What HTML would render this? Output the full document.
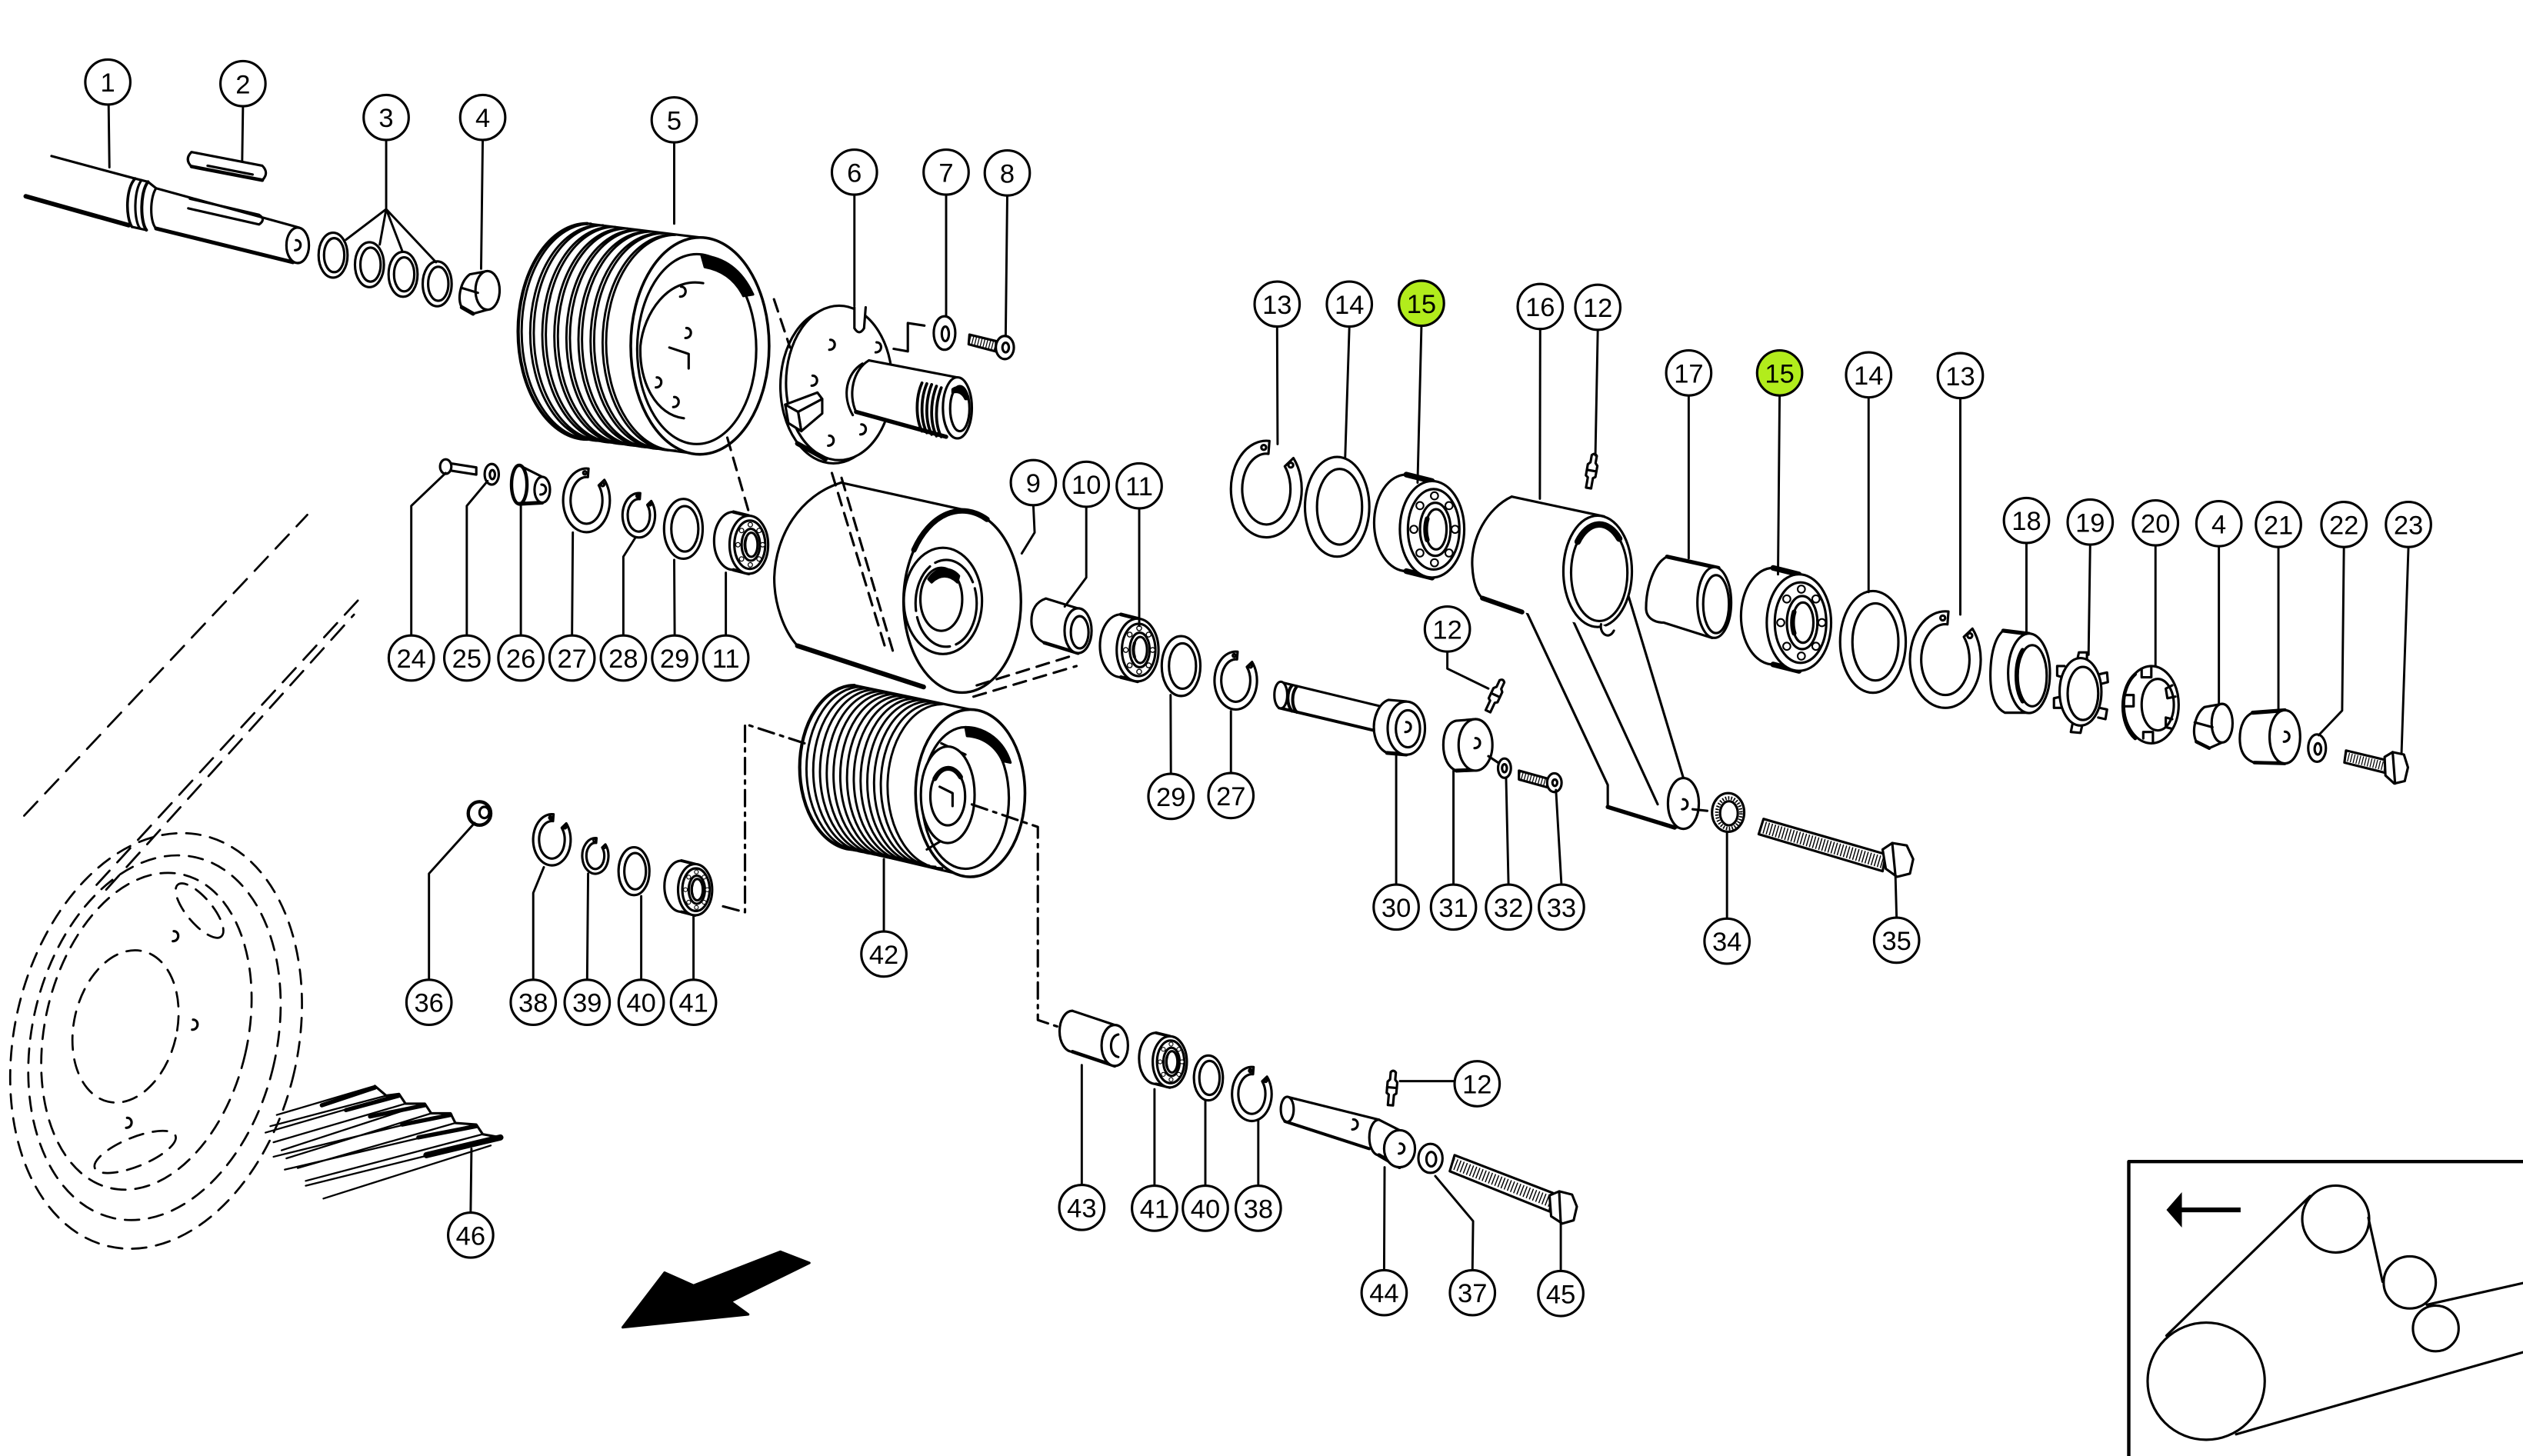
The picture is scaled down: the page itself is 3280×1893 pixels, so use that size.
<!DOCTYPE html>
<html><head><meta charset="utf-8"><title>Exploded parts diagram</title>
<style>html,body{margin:0;padding:0;background:#fff;overflow:hidden}svg{display:block}</style>
</head><body>
<svg xmlns="http://www.w3.org/2000/svg" width="3280" height="1893" viewBox="0 0 1568 905" preserveAspectRatio="none">
<defs>
<g id="clip"><path d="M16.85,-19.28 A22,30 0 1 1 1.92,-29.89 L1.31,-21.92 A15,22 0 1 0 11.49,-14.14 Z" fill="#fff"/><circle cx="-1.6" cy="-25.9" r="1.5"/><circle cx="15.2" cy="-14.9" r="1.5"/></g>
<g id="ring"><ellipse rx="20" ry="31" fill="#fff"/><ellipse cx="1.5" rx="14" ry="23.5"/></g>
<g id="bear"><path d="M-16,-34 A20,30 0 0 0 -16,26 L0,30 L0,-30 Z" fill="#fff"/><path d="M-16,-34 L0,-30 M-16,26 L0,30" stroke-width="3.5"/><ellipse rx="20" ry="30" fill="#fff"/><ellipse cx="1" rx="16" ry="25"/><ellipse cx="2" rx="9.5" ry="16.5"/><ellipse cx="2.5" rx="6.5" ry="12.5"/><path d="M-3,-6.6 A6.5,12.5 0 0 0 -3,6.6" stroke-width="3"/><g fill="#fff" stroke-width="1"><circle cx="14.3" cy="0" r="2.3"/><circle cx="10.55" cy="14.71" r="2.3"/><circle cx="1.5" cy="20.8" r="2.3"/><circle cx="-7.55" cy="14.71" r="2.3"/><circle cx="-11.3" cy="0" r="2.3"/><circle cx="-7.55" cy="-14.71" r="2.3"/><circle cx="1.5" cy="-20.8" r="2.3"/><circle cx="10.55" cy="-14.71" r="2.3"/></g></g>
<g id="nip"><path d="M-1.6,-10.5 Q0,-12.5 1.6,-10.5 L1.6,-6 L3,-4.5 L3,2.5 L1.6,3.5 L1.6,10 L-1.6,10 L-1.6,3.5 L-3,2.5 L-3,-4.5 L-1.6,-6 Z" fill="#fff"/><path d="M-3,-1 L3,-1"/></g>
<path id="cm" d="M-1,-3.2 C2.8,-3.2 2.8,3 -1.6,3"/>
</defs>
<rect x="0" y="0" width="1568" height="905" fill="#fff"/>

<g fill="none" stroke="#000" stroke-width="1.5" stroke-linecap="round" stroke-linejoin="round">

<!-- ===== Shaft 1 ===== -->
<path d="M32,97 L84,111"/>
<path d="M16,122 L80,140" stroke-width="2.8"/>
<path d="M84,111 C78,117 78,135 82,141" stroke-width="1.7"/>
<path d="M88,112 C83,118 83,137 87,142"/>
<path d="M92,113 C87,119 87,138 91,143" stroke-width="1.9"/>
<path d="M84,111 L92,113 M82,141 L91,143"/>
<path d="M92,113 L97,117 C93,123 93,138 97,142"/>
<path d="M97,117 L186,141.5"/>
<path d="M97,142 L182,163" stroke-width="2.4"/>
<ellipse cx="185" cy="152.5" rx="7" ry="11" fill="#fff"/>
<use href="#cm" x="185" y="152.5"/>
<path d="M118,123.5 L161,133.5 Q165.5,136.5 161,139.5 L117,129.5"/>

<!-- ===== Key 2 ===== -->
<path d="M119,94.5 L163,103 Q167.5,107.5 163,112 L119,103.5 Q114.5,99 119,94.5 Z" fill="#fff"/>
<path d="M119,103.5 L163,112" stroke-width="2.2"/>
<path d="M129,103 L157,108.5"/>

<!-- ===== Rings 3 ===== -->
<use href="#ring" transform="translate(207,158.6) scale(0.45)" stroke-width="3.33"/>
<use href="#ring" transform="translate(229.6,164.5) scale(0.45)" stroke-width="3.33"/>
<use href="#ring" transform="translate(250.5,170.5) scale(0.45)" stroke-width="3.33"/>
<use href="#ring" transform="translate(271.7,176.4) scale(0.45)" stroke-width="3.33"/>

<!-- ===== Part 4 (left) ===== -->
<path d="M303,168.5 L292,170.5 C286,175 284,186 287,191 L294,195 L303,192.5" fill="#fff"/>
<ellipse cx="303" cy="180.5" rx="7.5" ry="12" fill="#fff"/>
<path d="M287,179 L297,182"/>
<path d="M287,191 L294,195" stroke-width="2.5"/>

<!-- ===== Pulley 5 ===== -->
<path d="M365,139 A43,67 0 0 0 365,273 M367.2,139 A43,67 0 0 0 367.2,273 M372.5,140 A43,67 0 0 0 372.5,274 M374.7,140 A43,67 0 0 0 374.7,274 M380,141 A43,67 0 0 0 380,275 M382.2,141 A43,67 0 0 0 382.2,275 M387.5,142 A43,67 0 0 0 387.5,276 M389.7,142 A43,67 0 0 0 389.7,276 M395,143 A43,67 0 0 0 395,277 M397.2,143 A43,67 0 0 0 397.2,277 M402.5,144 A43,67 0 0 0 402.5,278 M404.7,144 A43,67 0 0 0 404.7,278 M410,145 A43,67 0 0 0 410,279 M412.2,145 A43,67 0 0 0 412.2,279 M417.5,146 A43,67 0 0 0 417.5,280 M419.7,146 A43,67 0 0 0 419.7,280" stroke-width="1.4"/>
<path d="M365,139 L435,147.6 M365,273 L435,282.4"/>
<path d="M365,139 A43,67 0 0 0 365,273" stroke-width="2"/>
<ellipse cx="435" cy="215" rx="43" ry="67.4" fill="#fff" stroke-width="1.7"/>
<ellipse cx="433" cy="217" rx="37" ry="59"/>
<path d="M437,176 C415,172 400,195 398,215 C397,238 408,258 425,260"/>
<path d="M436,158.8 C452,160 462,170 468,183 L462,184 C457,174 449,168 438,166 Z" fill="#000"/>
<path d="M416,216 L428,220 L428,229"/>
<use href="#cm" x="424.3" y="181.4"/>
<use href="#cm" x="427.6" y="207.1"/>
<use href="#cm" x="409.2" y="237.8"/>
<use href="#cm" x="420" y="250"/>

<!-- ===== Hub 6 ===== -->
<ellipse cx="518" cy="240" rx="33" ry="48" fill="#fff"/>
<ellipse cx="521.5" cy="238" rx="33" ry="48" fill="#fff"/>
<path d="M531,191 L531,204 Q534,209 537,204 L538,191" fill="#fff"/>
<use href="#cm" x="517" y="214.4"/>
<use href="#cm" x="545.8" y="216"/>
<use href="#cm" x="506" y="236.7"/>
<use href="#cm" x="536.3" y="267"/>
<use href="#cm" x="516.3" y="274"/>
<path d="M536,226 C526,232 523,246 530,258"/>
<path d="M540,224 L594.5,234.5 L595,272.5 L532,256 Z" fill="#fff" stroke="none"/>
<path d="M540,224 L594.5,234.5"/>
<path d="M532,256 L588,271.5" stroke-width="2.6"/>
<path d="M540,224 C530,230 527,245 532,256"/>
<path d="M573,238 C569,247 569,260 573,268 M576,238.5 C572,248 572,261 576,269 M579,239 C575,249 575,262 579,270 M582,240 C578,250 578,263 582,271 M585,241 C581,251 581,264 585,271.5" stroke-width="1.8"/>
<ellipse cx="595" cy="253.5" rx="9" ry="19" fill="#fff"/>
<ellipse cx="596.5" cy="254" rx="6" ry="14"/>
<path d="M592,242 C596,239 601,242 602,248 L600,248 C598,244 595,243 592,244 Z" fill="#000"/>
<path d="M488,251.5 L508,244 L511,248 L496,256 Z" fill="#fff"/>
<path d="M496,256 L511,248 L511,257 L498,268 Z" fill="#fff"/>
<path d="M488,251.5 L496,256 L498,268 L490,263 Z" fill="#fff"/>
<path d="M495.6,275.7 L513,285.3" stroke-width="3"/>

<!-- ===== 7, 8 ===== -->
<path d="M574.5,202.4 L564.2,200.8 L564.2,218.4 L555.4,216.8"/>
<ellipse cx="587" cy="207" rx="6.7" ry="10.4" fill="#fff"/>
<ellipse cx="587.5" cy="207.5" rx="2.2" ry="4.5"/>
<path d="M602.5,208 L619,212 L619,218.5 L602,214 Z" fill="#fff"/>
<path d="M602.5,211 L619,215.2" stroke-width="5" stroke-dasharray="0.6 1.2" stroke-linecap="butt"/>
<ellipse cx="624.5" cy="216" rx="5.6" ry="7.2" fill="#fff"/>
<ellipse cx="625" cy="216" rx="2" ry="3"/>

<!-- ===== dashed connectors upper ===== -->
<g stroke-dasharray="8 5">
<path d="M481,186 L491,216"/>
<path d="M452,272 L465,317"/>
</g>

<!-- ===== Roller 9 ===== -->
<path d="M522.7,300 L604,318 L574,427 L495.6,401.4 C487,392 481,375 481.2,358.8 C482,333 497,308 522.7,300 Z" fill="#fff" stroke="none"/>
<path d="M522.7,300 L604,318"/>
<path d="M522.7,300 C497,308 482,333 481.2,358.8 C481,375 487,392 495.6,401.4"/>
<path d="M495.6,401.4 L574,427" stroke-width="3"/>
<ellipse cx="598" cy="374" rx="36.5" ry="56.5" fill="#fff" stroke-width="1.6"/>
<path d="M568,341.8 A36.5,56.5 0 0 1 613.4,322.8" stroke-width="3.4"/>
<ellipse cx="586" cy="373.5" rx="24.3" ry="33" fill="#fff"/>
<ellipse cx="588" cy="375" rx="19" ry="27" stroke-dasharray="30 4"/>
<ellipse cx="585" cy="372.5" rx="13" ry="19.6"/>
<path d="M577,360 C582,352 591,352 596,358 L595,362 C590,357 584,357 579,362 Z" fill="#000"/>
<g stroke-dasharray="8 5">
<path d="M517,294 L550,402"/>
<path d="M523,297 L555,405"/>
</g>

<!-- ===== 10, 11, 29, 27 (upper middle) ===== -->
<path d="M650,372 L670,378.2 L670,406 L649,399.5 C644,397 641,393 641,386 C641,379 644,374 650,372 Z" fill="#fff"/>
<path d="M649,399.5 L670,406" stroke-width="2.2"/>
<ellipse cx="670" cy="392" rx="8.4" ry="13.9" fill="#fff"/>
<ellipse cx="671" cy="393" rx="5.5" ry="10"/>
<use href="#bear" transform="translate(707,404) scale(0.65)" stroke-width="2.3"/>
<use href="#ring" transform="translate(734,414) scale(0.6)" stroke-width="2.5"/>
<use href="#clip" transform="translate(768,423) scale(0.6)" stroke-width="2.5"/>

<!-- ===== Pulley 42 ===== -->
<path d="M531,426 A34,51 0 0 0 531,528 M535.2,426.9 A34,51 0 0 0 535.2,528.9 M539.4,427.8 A34,51 0 0 0 539.4,529.8 M543.6,428.7 A34,51 0 0 0 543.6,530.7 M547.8,429.6 A34,51 0 0 0 547.8,531.6 M552,430.5 A34,51 0 0 0 552,532.5 M556.2,431.4 A34,51 0 0 0 556.2,533.4 M560.4,432.3 A34,51 0 0 0 560.4,534.3 M564.6,433.2 A34,51 0 0 0 564.6,535.2 M568.8,434.1 A34,51 0 0 0 568.8,536.1 M573,435 A34,51 0 0 0 573,537 M577.2,435.9 A34,51 0 0 0 577.2,537.9 M581.4,436.8 A34,51 0 0 0 581.4,538.8 M585.6,437.7 A34,51 0 0 0 585.6,539.7" stroke-width="1.4"/>
<path d="M531,426 A34,51 0 0 0 531,528" stroke-width="2"/>
<path d="M531,426 L603,441 M531,528 L603,545"/>
<ellipse cx="603" cy="493" rx="34" ry="52" fill="#fff" stroke-width="1.7"/>
<ellipse cx="600" cy="496" rx="27" ry="44"/>
<path d="M600,452 C613,452 624,461 628,474 L623,473 C619,464 611,458 601,457.5 Z" fill="#000"/>
<path d="M585,462 L600,469 M576,528 L596,516"/>
<ellipse cx="589" cy="494" rx="16.7" ry="30" fill="#fff"/>
<ellipse cx="589" cy="495" rx="10.8" ry="18"/>
<path d="M581,484 A10.8,18 0 0 1 597,483" stroke-width="3"/>
<path d="M584,489 L592,493 L592,501"/>
<g stroke-dasharray="8 5">
<path d="M607,426 L665,408"/>
<path d="M605,433 L669,414"/>
</g>

<!-- ===== dash-dot connectors ===== -->
<g stroke-dasharray="10 4 2 4">
<path d="M604,500 L645,514 L645,634 L657,638"/>
<path d="M500,462 L463,450 L463,567 L448,563"/>
</g>

<!-- ===== parts 24-29, 11 (left row) ===== -->
<path d="M280,288 L296,290.5 L296,295 L280,292.5 Z" fill="#fff"/>
<ellipse cx="277" cy="290" rx="3.5" ry="4.5" fill="#fff"/>
<ellipse cx="305.6" cy="294.8" rx="4.4" ry="6.4" fill="#fff"/>
<ellipse cx="306" cy="295" rx="1.6" ry="2.8"/>
<ellipse cx="322.7" cy="301.2" rx="4.8" ry="12" fill="#fff" stroke-width="2.1"/>
<path d="M322.7,289.2 L337,296.4 M322.7,313.2 L337,312.4"/>
<path d="M322.7,313.2 L337,312.4" stroke-width="2.4"/>
<ellipse cx="337" cy="304.4" rx="4.8" ry="8" fill="#fff"/>
<use href="#cm" x="337.5" y="304.4"/>
<use href="#clip" transform="translate(364.5,311) scale(0.66)" stroke-width="2.27"/>
<use href="#clip" transform="translate(397,320.3) scale(0.46)" stroke-width="3.26"/>
<use href="#ring" transform="translate(424.7,328.7) scale(0.6)" stroke-width="2.5"/>
<use href="#bear" transform="translate(465.4,338.6) scale(0.6)" stroke-width="2.5"/>

<!-- ===== lower-left 36, 38-41 ===== -->
<ellipse cx="298" cy="505.6" rx="7" ry="7.3" fill="#fff" stroke-width="2.1"/>
<ellipse cx="301" cy="505" rx="3" ry="3.5"/>
<use href="#clip" transform="translate(343,522) scale(0.53)" stroke-width="2.83"/>
<use href="#clip" transform="translate(370,532) scale(0.37)" stroke-width="4.05"/>
<use href="#ring" transform="translate(394,541.5) scale(0.48)" stroke-width="3.1"/>
<use href="#bear" transform="translate(432,553) scale(0.53)" stroke-width="2.83"/>

<!-- ===== Right group ===== -->
<use href="#clip" transform="translate(787,304)"/>
<use href="#ring" transform="translate(831,315)"/>
<use href="#bear" transform="translate(890,329)"/>

<!-- Arm 16 -->
<path d="M939.5,360.7 L969.3,370.1 L1009.9,363.3 L1046.2,483.6 L1046,514 L1040.8,514.4 L999.2,501.6 L999.2,487.9 Z" fill="#fff"/>
<path d="M970.4,370.1 L1030.2,499.9"/>
<path d="M939.5,360.7 L969.3,370.1" stroke-width="2.5"/>
<path d="M999.2,501.6 L1040.8,514.4" stroke-width="2.6"/>
<ellipse cx="1046.2" cy="499.4" rx="9.6" ry="15.8" fill="#fff"/>
<use href="#cm" x="1047" y="500"/>
<path d="M1052,503 L1061,504"/>
<path d="M939.5,308.7 L993,320.6 L993,389.7 L946,380.4 L921.3,371.8 C914,360 913,330 939.5,308.7 Z" fill="#fff" stroke="none"/>
<path d="M939.5,308.7 L997,321"/>
<path d="M939.5,308.7 C924,316 914,335 915,352 C915.5,362 918,369 921.3,371.8"/>
<path d="M921.3,371.8 L945.9,380.4" stroke-width="3"/>
<ellipse cx="992.9" cy="355.1" rx="21.3" ry="34.6" fill="#fff"/>
<ellipse cx="993.9" cy="356" rx="17.5" ry="30"/>
<path d="M980.5,336.7 A17.5,30 0 0 1 1006.3,334.8" stroke-width="4"/>
<path d="M995,388 C994,394 1000,398 1003,392" fill="#fff"/>
<use href="#nip" transform="translate(989,293.5) rotate(10)"/>

<!-- 17 -->
<path d="M1036,346 L1065,352.5 L1065,396.5 L1034,387 C1028,387 1023,384 1023,378 C1023,365 1028,350 1036,346 Z" fill="#fff" stroke="none"/>
<path d="M1036,346 L1068,353" stroke-width="2.5"/>
<path d="M1036,346 C1028,350 1023,365 1023,378 C1023,384 1028,387 1034,387 L1064,396.5"/>
<ellipse cx="1065.4" cy="374.5" rx="10.5" ry="22" fill="#fff"/>
<ellipse cx="1066.5" cy="375.5" rx="8" ry="18"/>

<use href="#bear" transform="translate(1118,387)"/>
<use href="#ring" transform="translate(1164,399) scale(1.02)" stroke-width="1.47"/>
<use href="#clip" transform="translate(1209,410)"/>

<!-- 18 -->
<path d="M1245,392 L1261,394 L1261,443 L1246,443 C1240,440 1237,432 1237,420 C1237,406 1240,396 1245,392 Z" fill="#fff"/>
<path d="M1245,392 L1261,394" stroke-width="2.5"/>
<ellipse cx="1261" cy="418.5" rx="13" ry="24.7" fill="#fff"/>
<ellipse cx="1263" cy="420" rx="9" ry="19"/>
<path d="M1257,404 C1252,412 1252,428 1257,436" stroke-width="2.5"/>

<!-- 19 tab washer -->
<path d="M1291,410 L1292,405.5 L1297,405.5 L1297,410 M1305,419 L1309.5,418 L1310,424 L1306,425 M1305,440 L1309.5,441 L1308.5,447 L1304,446 M1288,450 L1287,455 L1293,455.5 L1294,451 M1281,433 L1276.5,434 L1276.5,440 L1281,440 M1283,414 L1278.5,414 L1278.5,420 L1282,421"/>
<ellipse cx="1293" cy="430" rx="13" ry="21" fill="#fff"/>
<ellipse cx="1294.5" cy="431" rx="9.5" ry="16.5"/>

<!-- 20 nut -->
<ellipse cx="1337" cy="438" rx="17" ry="24" fill="#fff"/>
<ellipse cx="1341" cy="438" rx="10" ry="16"/>
<path d="M1331,416 L1331,421 L1337,421 L1337,415 M1320,432 L1326,432 L1326,439 L1321,439 M1332,459 L1332,455 L1338,455 L1338,461 M1350,426 L1346,428 L1347,434 L1352,433 M1350,447 L1346,446 L1346,452 L1350,453"/>
<path d="M1327,419 C1317,428 1317,450 1327,459" stroke-width="2.2"/>

<!-- 4 right -->
<path d="M1381,437.5 L1370,439.5 C1364,444 1362,455 1365,461 L1373,465 L1381,461.5" fill="#fff"/>
<ellipse cx="1381" cy="449.5" rx="6.5" ry="12" fill="#fff"/>
<path d="M1364,449 L1375,452"/>
<path d="M1365,461 L1373,465" stroke-width="2.2"/>

<!-- 21 -->
<path d="M1400,443 L1420,441.5 L1420,474 L1401,474 C1395,472 1392,467 1392,459 C1392,451 1395,445 1400,443 Z" fill="#fff"/>
<path d="M1400,443 L1420,441.5" stroke-width="2.5"/>
<path d="M1401,474 L1420,474.5" stroke-width="2.2"/>
<ellipse cx="1420" cy="458" rx="9.5" ry="16.5" fill="#fff"/>
<use href="#cm" x="1421" y="458"/>

<!-- 22 -->
<ellipse cx="1440" cy="465" rx="5.5" ry="8.5" fill="#fff"/>
<ellipse cx="1440.5" cy="465.5" rx="2" ry="3.5"/>

<!-- 23 bolt -->
<path d="M1458,466.5 L1483,472.5 L1483,480.5 L1457,474 Z" fill="#fff"/>
<path d="M1457.5,470.2 L1483,476.5" stroke-width="5.5" stroke-dasharray="0.6 1.2" stroke-linecap="butt"/>
<path d="M1482,470.5 L1487,467.5 L1494,469 L1496.5,477 L1494.5,485.5 L1488,487 L1482.5,482 Z" fill="#fff"/>
<path d="M1487,467.5 L1488.5,487"/>

<!-- mid: 12, 30-35 -->
<use href="#nip" transform="translate(929,433) rotate(25)"/>
<path d="M796,424 L858,439 L858,455 L795,440 Z" fill="#fff" stroke="none"/>
<path d="M796,424 L858,439"/>
<path d="M795,440 L856,454.5" stroke-width="1.9"/>
<ellipse cx="796" cy="432" rx="4" ry="8.3" fill="#fff"/>
<path d="M803,426 C799.5,430 799.5,438 803,442 M806,426.7 C802.5,431 802.5,439 806,442.7" stroke-width="1.9"/>
<path d="M863,435 L874,436 L874,469 L862,468 C858,466 855,462 854,455 C853,446 857,437 863,435 Z" fill="#fff"/>
<path d="M862,468 L874,469" stroke-width="2.4"/>
<ellipse cx="874" cy="452.6" rx="11.6" ry="16.5" fill="#fff"/>
<ellipse cx="875" cy="453" rx="7.5" ry="11.5"/>
<use href="#cm" x="875" y="452"/>

<path d="M905,448 L917,447 L917,478 L905,479 C900,477 897,471 897,463 C897,455 900,449 905,448 Z" fill="#fff"/>
<path d="M905,479 L917,478.5" stroke-width="2.4"/>
<ellipse cx="917" cy="463" rx="10.5" ry="16" fill="#fff"/>
<use href="#cm" x="918" y="462"/>
<path d="M925,470 L931,474"/>

<ellipse cx="935" cy="477.5" rx="4" ry="6" fill="#fff"/>
<ellipse cx="935" cy="477.5" rx="1.5" ry="2.5"/>
<path d="M944,479 L962,484 L962,489.5 L944,484.5 Z" fill="#fff"/>
<path d="M944,481.7 L962,486.7" stroke-width="4.5" stroke-dasharray="0.6 1.2" stroke-linecap="butt"/>
<ellipse cx="966" cy="486.5" rx="4.5" ry="5.8" fill="#fff"/>
<ellipse cx="966.3" cy="486.5" rx="1.5" ry="2"/>

<ellipse cx="1074" cy="505" rx="10" ry="12" fill="#fff"/>
<ellipse cx="1074.5" cy="505.5" rx="7.5" ry="9.5" stroke-width="2.2" stroke-dasharray="0.8 1" stroke-linecap="butt"/>
<ellipse cx="1074.5" cy="505.5" rx="5.5" ry="7.5"/>

<path d="M1096,509 L1172,531 L1170,541.5 L1093,518.5 Z" fill="#fff"/>
<path d="M1094.5,513.8 L1171,536.3" stroke-width="7.5" stroke-dasharray="0.7 1.3" stroke-linecap="butt"/>
<path d="M1170,528 L1176,524 L1185,525.5 L1189,534 L1187,543 L1179,545 L1172,540 Z" fill="#fff"/>
<path d="M1176,524 L1178,544.5"/>

<!-- ===== bottom group 43, 41, 40, 38, 12, 44, 37, 45 ===== -->
<path d="M666.5,628.3 L692.8,637.1 L692.8,662.5 L666.5,653.7 A8,12.7 0 0 1 666.5,628.3 Z" fill="#fff" stroke="none"/>
<path d="M666.5,628.3 L692.8,637.1"/>
<path d="M666.5,628.3 A8,12.7 0 0 0 666.5,653.7"/>
<path d="M666.5,653.7 L692.8,662.5" stroke-width="2.2"/>
<ellipse cx="692.8" cy="649.8" rx="8.2" ry="12.7" fill="#fff"/>
<path d="M695,643 C689,644 689,656 695,657"/>
<use href="#bear" transform="translate(727,660) scale(0.53)" stroke-width="2.83"/>
<use href="#ring" transform="translate(751,670) scale(0.45)" stroke-width="3.33"/>
<use href="#clip" transform="translate(778,680) scale(0.56)" stroke-width="2.68"/>
<use href="#nip" transform="translate(865,677) rotate(5)"/>

<path d="M801,682 L857,696 L857,718 L850,714 L798.5,697 Z" fill="#fff" stroke="none"/>
<path d="M801,682 L857,696"/>
<path d="M798.5,697 L851,714" stroke-width="1.9"/>
<ellipse cx="800" cy="689.5" rx="4" ry="7.8" fill="#fff"/>
<use href="#cm" x="842" y="699"/>
<path d="M857,696 L869.8,702.5 L869.8,725.5 L857,718 A6,11 0 0 1 857,696 Z" fill="#fff" stroke="none"/>
<path d="M857,696 L869.8,702.5"/>
<path d="M857,696 A6,11 0 0 0 857,718"/>
<path d="M857,718 L869.8,725.5" stroke-width="2.4"/>
<ellipse cx="869.8" cy="714" rx="9.6" ry="11.5" fill="#fff"/>
<use href="#cm" x="871" y="714"/>

<ellipse cx="889" cy="720" rx="7.5" ry="9" fill="#fff"/>
<ellipse cx="889.5" cy="720.5" rx="3" ry="4.5"/>

<path d="M904,718 L965,741.5 L963,753 L901,728 Z" fill="#fff"/>
<path d="M902.5,723 L964,747" stroke-width="7" stroke-dasharray="0.7 1.4" stroke-linecap="butt"/>
<path d="M963,743 L969,740.5 L977,742.5 L980,750 L978,758.5 L971,760.5 L964,756 Z" fill="#fff"/>
<path d="M969,740.5 L970,760.5"/>

<!-- ===== Wheel (dashed) ===== -->
<g stroke-dasharray="9 6" stroke-width="1.3">
<ellipse cx="97" cy="647" rx="88" ry="131" transform="rotate(13 97 647)"/>
<ellipse cx="96" cy="645" rx="76" ry="115" transform="rotate(13 96 645)"/>
<ellipse cx="91" cy="641" rx="63" ry="100" transform="rotate(13 91 641)"/>
<ellipse cx="78" cy="638" rx="32" ry="48" transform="rotate(13 78 638)"/>
<ellipse cx="124" cy="566" rx="21" ry="8" transform="rotate(50 124 566)"/>
<ellipse cx="84" cy="716" rx="27" ry="9" transform="rotate(-22 84 716)"/>
</g>
<use href="#cm" x="109" y="582"/>
<use href="#cm" x="121" y="637"/>
<use href="#cm" x="80" y="698"/>
<g stroke-dasharray="12 7" stroke-width="1.3">
<path d="M15,507 L191,320"/>
<path d="M60,550 L224,371.5"/>
<path d="M66,553 L220,382"/>
</g>

<!-- ===== Belt 46 ===== -->
<path d="M172,693 L233,675 M168,700 L240,681 M165,704 L248,680 M170,710 L252,686 M175,715 L264,686 M178,720 L268,692 M170,719 L280,692 M185,726 L283,698 M177,727 L296,699 M190,734 L300,705 M190,737 L311,707 M201,745 L305,712" stroke-width="1.1"/>
<path d="M200,687 L233,676 M215,690 L248,681 M230,694 L264,687 M250,699 L280,693 M260,707 L296,700" stroke-width="2.6"/>
<path d="M265,718 L311,707" stroke-width="3.8"/>
<path d="M233,675 L240,681 L248,680 L252,686 L264,686 L268,692 L280,692 L283,698 L296,699 L300,705 L311,707"/>

<!-- ===== big arrow ===== -->
<path d="M387,825 L413,791 L431,799 L485,778 L503,785 L454,809 L465,817 Z" fill="#000"/>

<!-- ===== Inset ===== -->
<path d="M1568,722 L1323,722 L1323,905" stroke-width="2.1"/>
<path d="M1346.4,752 L1356,741 L1356,750.5 L1392.5,750.5 L1392.5,753.5 L1356,753.5 L1356,763 Z" fill="#000" stroke="none"/>
<circle cx="1451.6" cy="757.7" r="20.8" stroke-width="1.5"/>
<circle cx="1497.6" cy="797.1" r="16.2" stroke-width="1.5"/>
<circle cx="1513.8" cy="825.7" r="14.2" stroke-width="1.5"/>
<circle cx="1371.1" cy="858.5" r="36.4" stroke-width="1.5"/>
<path d="M1346.4,830.2 L1435.7,743.4 M1471.9,756.9 L1480.7,796.7 M1508.2,811 L1568,797.5 M1389.7,891.5 L1568,840.5" stroke-width="1.5"/>

<!-- ===== Leader lines ===== -->
<g stroke-width="1.4">
<path d="M67.5,65 L68,104 M151,66 L150.5,100 M240,87 L240,130 L215,149 M240,130 L236,152 M240,130 L250,156 M240,130 L271,163 M300,87 L299,167 M419,88.5 L419,139 M531,121 L531,190 M588,121 L588,196 M626,121.5 L625,209"/>
<path d="M793.7,203 L794,276 M838.6,203 L836,284 M883.4,202.5 L881,300 M957.2,204.5 L957,310 M993,205 L991.5,283 M1049.5,245.8 L1049.5,347 M1106,245.8 L1105,357 M1161.3,247 L1161.3,368 M1218.3,247.5 L1218.3,382"/>
<path d="M1259.4,337.5 L1259.4,394 M1299,338.5 L1298,407 M1339.6,339 L1339.6,414 M1379,339.5 L1379,437 M1416,340 L1416,442 M1456.7,340 L1455.6,441.7 L1441,457 M1496.8,340 L1492.5,468"/>
<path d="M642.2,314 L643,331 L635,344 M675.1,315 L675.1,359 L661.7,377 M708,316 L708,389"/>
<path d="M255.6,395 L255.6,314.4 L277,294 M290.1,395 L290.1,314.4 L303,299 M323.7,395 L323.7,313 M355.5,395 L356,331 M387.4,395 L387.4,346 L395,334 M419.3,395 L419,348 M451.1,395 L451.1,356"/>
<path d="M899.5,405 L899.5,415.6 L925,428 M727.7,481 L727.5,432 M765,480.5 L765,442"/>
<path d="M867.7,549.8 L867.7,469 M903.3,549.8 L903.3,479 M937.5,549.8 L936,483.5 M970.4,549.8 L967,491 M1073.3,571 L1073.3,517 M1178.7,570.4 L1178,545"/>
<path d="M266.6,609 L266.6,543 L295,511.5 M331.4,609 L331.4,555 L338,539 M364.9,609 L365.5,543 M398.5,609 L398.5,557 M431,609 L431,569 M549.3,579 L549.3,534 M292.5,753.7 L293,714"/>
<path d="M870,672 L904,672 M672.3,736.5 L672.3,662 M717.5,737 L717.5,677 M749.1,737 L749.1,684 M782,737 L782,696 M860.2,789.5 L860.5,725.5 M915.1,789.5 L915.5,759 L892,731 M970,790 L970,761"/>
</g>
</g>

<!-- ===== Labels ===== -->
<g stroke="#000" stroke-width="1.5" fill="#fff">
<circle cx="67" cy="51" r="14"/><circle cx="151" cy="52" r="14"/><circle cx="240" cy="73" r="14"/><circle cx="300" cy="73" r="14"/><circle cx="419" cy="74.5" r="14"/>
<circle cx="531" cy="107" r="14"/><circle cx="588" cy="107" r="14"/><circle cx="626" cy="107.5" r="14"/>
<circle cx="793.7" cy="189" r="14"/><circle cx="838.6" cy="189" r="14"/><circle cx="883.4" cy="188.5" r="14" fill="#b2ec1c"/><circle cx="957.2" cy="190.5" r="14"/><circle cx="993" cy="191" r="14"/>
<circle cx="1049.5" cy="231.8" r="14"/><circle cx="1106" cy="231.8" r="14" fill="#b2ec1c"/><circle cx="1161.3" cy="233" r="14"/><circle cx="1218.3" cy="233.5" r="14"/>
<circle cx="1259.4" cy="323.5" r="14"/><circle cx="1299" cy="324.5" r="14"/><circle cx="1339.6" cy="325" r="14"/><circle cx="1379" cy="325.5" r="14"/><circle cx="1416" cy="326" r="14"/><circle cx="1456.7" cy="326" r="14"/><circle cx="1496.8" cy="326" r="14"/>
<circle cx="642.2" cy="300" r="14"/><circle cx="675.1" cy="301" r="14"/><circle cx="708" cy="302" r="14"/>
<circle cx="255.6" cy="409" r="14"/><circle cx="290.1" cy="409" r="14"/><circle cx="323.7" cy="409" r="14"/><circle cx="355.5" cy="409" r="14"/><circle cx="387.4" cy="409" r="14"/><circle cx="419.3" cy="409" r="14"/><circle cx="451.1" cy="409" r="14"/>
<circle cx="899.5" cy="391" r="14"/><circle cx="727.7" cy="495" r="14"/><circle cx="765" cy="494.5" r="14"/>
<circle cx="867.7" cy="563.8" r="14"/><circle cx="903.3" cy="563.8" r="14"/><circle cx="937.5" cy="563.8" r="14"/><circle cx="970.4" cy="563.8" r="14"/><circle cx="1073.3" cy="585" r="14"/><circle cx="1178.7" cy="584.4" r="14"/>
<circle cx="266.6" cy="623" r="14"/><circle cx="331.4" cy="623" r="14"/><circle cx="364.9" cy="623" r="14"/><circle cx="398.5" cy="623" r="14"/><circle cx="431" cy="623" r="14"/><circle cx="549.3" cy="593" r="14"/><circle cx="292.5" cy="767.7" r="14"/>
<circle cx="918" cy="673.6" r="14"/><circle cx="672.3" cy="750.5" r="14"/><circle cx="717.5" cy="751" r="14"/><circle cx="749.1" cy="751" r="14"/><circle cx="782" cy="751" r="14"/><circle cx="860.2" cy="803.5" r="14"/><circle cx="915.1" cy="803.5" r="14"/><circle cx="970" cy="804" r="14"/>
</g>
<g font-family="'Liberation Sans', Arial, sans-serif" font-size="16.5" text-anchor="middle" fill="#000">
<text x="67" y="57">1</text><text x="151" y="58">2</text><text x="240" y="79">3</text><text x="300" y="79">4</text><text x="419" y="80.5">5</text>
<text x="531" y="113">6</text><text x="588" y="113">7</text><text x="626" y="113.5">8</text>
<text x="793.7" y="195">13</text><text x="838.6" y="195">14</text><text x="883.4" y="194.5">15</text><text x="957.2" y="196.5">16</text><text x="993" y="197">12</text>
<text x="1049.5" y="237.8">17</text><text x="1106" y="237.8">15</text><text x="1161.3" y="239">14</text><text x="1218.3" y="239.5">13</text>
<text x="1259.4" y="329.5">18</text><text x="1299" y="330.5">19</text><text x="1339.6" y="331">20</text><text x="1379" y="331.5">4</text><text x="1416" y="332">21</text><text x="1456.7" y="332">22</text><text x="1496.8" y="332">23</text>
<text x="642.2" y="306">9</text><text x="675.1" y="307">10</text><text x="708" y="308">11</text>
<text x="255.6" y="415">24</text><text x="290.1" y="415">25</text><text x="323.7" y="415">26</text><text x="355.5" y="415">27</text><text x="387.4" y="415">28</text><text x="419.3" y="415">29</text><text x="451.1" y="415">11</text>
<text x="899.5" y="397">12</text><text x="727.7" y="501">29</text><text x="765" y="500.5">27</text>
<text x="867.7" y="569.8">30</text><text x="903.3" y="569.8">31</text><text x="937.5" y="569.8">32</text><text x="970.4" y="569.8">33</text><text x="1073.3" y="591">34</text><text x="1178.7" y="590.4">35</text>
<text x="266.6" y="629">36</text><text x="331.4" y="629">38</text><text x="364.9" y="629">39</text><text x="398.5" y="629">40</text><text x="431" y="629">41</text><text x="549.3" y="599">42</text><text x="292.5" y="773.7">46</text>
<text x="918" y="679.6">12</text><text x="672.3" y="756.5">43</text><text x="717.5" y="757">41</text><text x="749.1" y="757">40</text><text x="782" y="757">38</text><text x="860.2" y="809.5">44</text><text x="915.1" y="809.5">37</text><text x="970" y="810">45</text>
</g>
</svg>
</body></html>
